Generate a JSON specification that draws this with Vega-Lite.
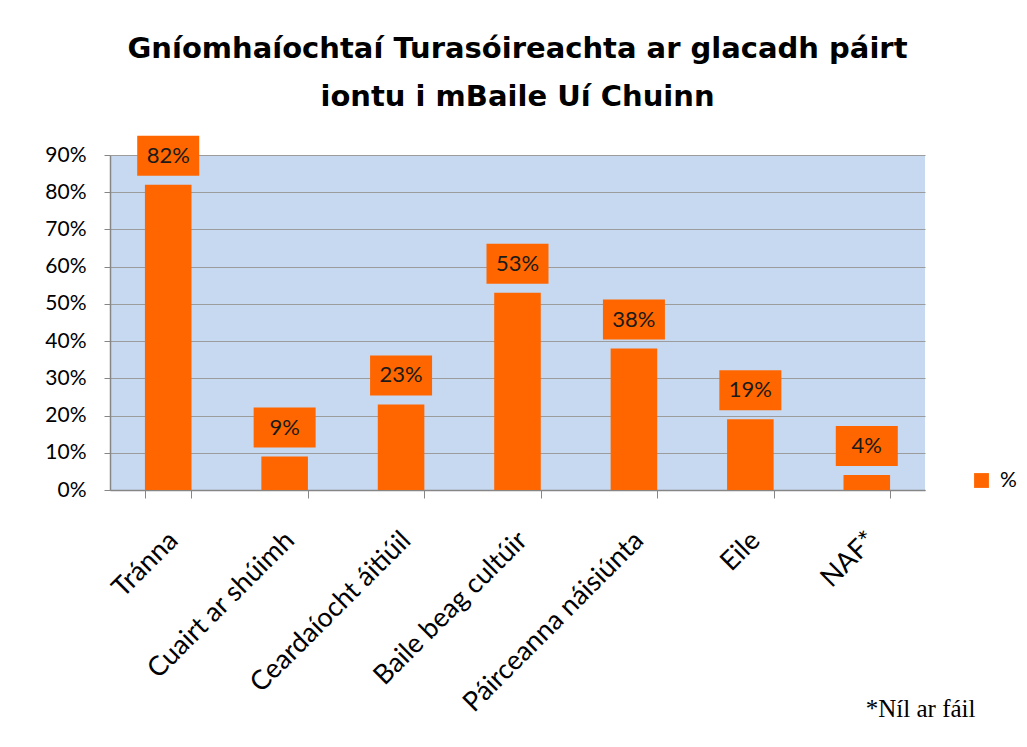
{
  "$schema": "https://vega.github.io/schema/vega-lite/v6.json",
  "autosize": "none",
  "width": 815,
  "height": 335,
  "padding": {"left": 110, "top": 155, "right": 102, "bottom": 257},
  "background": "white",
  "title": {
    "text": ["Gníomhaíochtaí Turasóireachta ar glacadh páirt", "iontu i mBaile Uí Chuinn"],
    "font": "DejaVu Sans",
    "fontSize": 29,
    "fontWeight": "bold",
    "color": "#000000",
    "lineHeight": 48,
    "anchor": "middle",
    "frame": "group",
    "offset": 24
  },
  "config": {
    "view": {"fill": "#C6D9F1", "stroke": null},
    "font": "Lato"
  },
  "data": {
    "values": [
      {"activity": "Tránna", "value": 0.82, "series": "%"},
      {"activity": "Cuairt ar shúimh", "value": 0.09, "series": "%"},
      {"activity": "Ceardaíocht áitiúil", "value": 0.23, "series": "%"},
      {"activity": "Baile beag cultúir", "value": 0.53, "series": "%"},
      {"activity": "Páirceanna náisiúnta", "value": 0.38, "series": "%"},
      {"activity": "Eile", "value": 0.19, "series": "%"},
      {"activity": "NAF*", "value": 0.04, "series": "%"}
    ]
  },
  "encoding": {
    "x": {
      "field": "activity",
      "type": "nominal",
      "sort": null,
      "scale": {"paddingInner": 0.6, "paddingOuter": 0.3},
      "axis": {
        "title": "*Níl ar fáil",
        "titleFont": "Liberation Serif",
        "titleFontSize": 25,
        "titleFontWeight": "normal",
        "titleColor": "#000000",
        "titleAnchor": "end",
        "titleAlign": "right",
        "titleX": 865,
        "titleY": 226,
        "titleBaseline": "alphabetic",
        "labelAngle": -45,
        "labelAlign": "right",
        "labelBaseline": "middle",
        "labelFontSize": 27,
        "labelLimit": 0,
        "labelColor": "#000000",
        "labelPadding": 38,
        "labelOffset": 5,
        "tickBand": "extent",
        "tickSize": 8,
        "tickColor": "#868686",
        "domainColor": "#868686",
        "domainWidth": 1.5,
        "grid": false
      }
    },
    "y": {
      "field": "value",
      "type": "quantitative",
      "scale": {"domain": [0, 0.9], "nice": false},
      "axis": {
        "title": null,
        "format": ".0%",
        "values": [0, 0.1, 0.2, 0.3, 0.4, 0.5, 0.6, 0.7, 0.8, 0.9],
        "labelFontSize": 21,
        "labelColor": "#000000",
        "labelPadding": 18,
        "tickSize": 6,
        "tickColor": "#868686",
        "domainColor": "#868686",
        "domainWidth": 1.5,
        "gridColor": "#9C9C9C",
        "gridWidth": 1.2
      }
    }
  },
  "layer": [
    {
      "mark": {"type": "bar"},
      "encoding": {
        "color": {
          "field": "series",
          "type": "nominal",
          "scale": {"range": ["#FF6600"]},
          "legend": {
            "title": null,
            "orient": "none",
            "legendX": 861,
            "legendY": 315,
            "symbolType": "square",
            "symbolSize": 220,
            "symbolOpacity": 1,
            "labelFontSize": 21,
            "labelColor": "#000000",
            "labelOffset": 8
          }
        }
      }
    },
    {
      "mark": {
        "type": "point",
        "shape": "M-1,-0.645L1,-0.645L1,0.645L-1,0.645Z",
        "filled": true,
        "opacity": 1,
        "color": "#FF6600",
        "size": 3844,
        "yOffset": -29
      },
      "encoding": {}
    },
    {
      "mark": {
        "type": "text",
        "baseline": "middle",
        "align": "center",
        "fontSize": 22,
        "color": "#1a1a1a",
        "yOffset": -29
      },
      "encoding": {
        "text": {"field": "value", "type": "quantitative", "format": ".0%"}
      }
    }
  ]
}
